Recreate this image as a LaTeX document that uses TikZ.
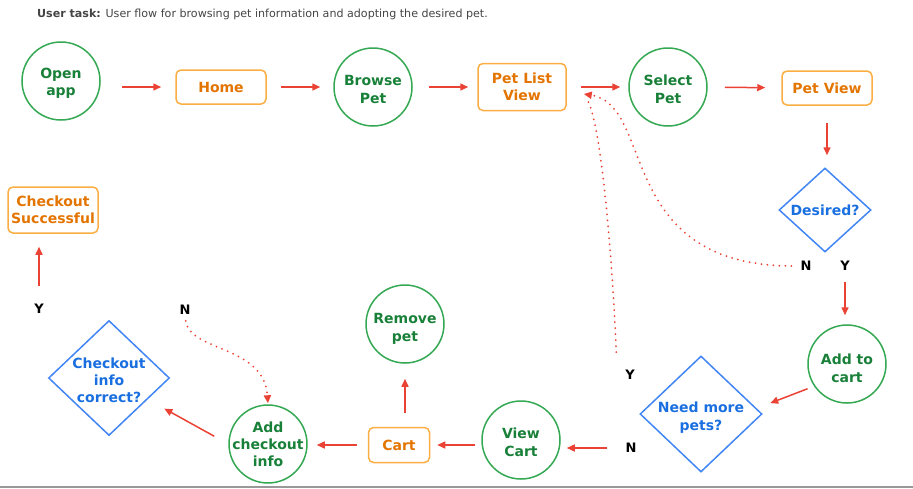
\documentclass[tikz,border=0pt]{standalone}
\usepackage{fontspec}
\setmainfont{DejaVu Sans}
\usetikzlibrary{shapes.geometric,arrows.meta}

\definecolor{flowGreen}{HTML}{34A853}
\definecolor{flowGreenText}{HTML}{188038}
\definecolor{flowOrange}{HTML}{FBAE44}
\definecolor{flowOrangeText}{HTML}{E37400}
\definecolor{flowBlue}{HTML}{4285F4}
\definecolor{flowBlueText}{HTML}{1A6FE0}
\definecolor{flowRed}{HTML}{EA4335}
\definecolor{taskGray}{HTML}{444444}

\newcommand\lowerby[1]{\rule{0pt}{#1}}

\tikzset{
  screen/.style={draw=flowOrange, line width=1.5pt, rounded corners=5pt, text=flowOrangeText,
    font=\bfseries\fontsize{14}{17.2}\selectfont, align=center, inner sep=2pt},
  action/.style={circle, draw=flowGreen, line width=1.5pt, text=flowGreenText,
    font=\bfseries\fontsize{14}{17.2}\selectfont, align=center, minimum size=78pt, inner sep=0pt},
  decision/.style={diamond, draw=flowBlue, line width=1.5pt, text=flowBlueText,
    font=\bfseries\fontsize{14}{17.2}\selectfont, align=center, inner sep=-4pt},
  answer/.style={font=\bfseries\fontsize{13}{15}\selectfont, inner sep=1pt},
  flow/.style={draw=flowRed, line width=1.5pt, -{Triangle[length=8pt,width=7pt]}},
  back/.style={draw=flowRed, line width=2pt, line cap=round, dash pattern=on 0pt off 6pt,
    -{Triangle[length=8pt,width=7pt]}}
}

\begin{document}
\begin{tikzpicture}[x=1pt,y=-1pt]
\useasboundingbox (0,0) rectangle (913,488);
\draw[gray!80, line width=2pt] (0,486.5) -- (913,486.5);
\node[anchor=west, inner sep=0pt, text=taskGray, font=\fontsize{11.1}{13}\selectfont] (task) at (37,14)
  {\textbf{User task:} User flow for browsing pet information and adopting the desired pet.};

\node[action] (openApp) at (61,81) {\lowerby{15pt}Open\\app};
\node[screen, minimum width=90pt, minimum height=34pt] (home) at (221,87) {Home};
\node[action] (browsePet) at (373,87) {\lowerby{15pt}Browse\\Pet};
\node[screen, minimum width=88pt, minimum height=47pt] (petList) at (522,87) {Pet List\\View};
\node[action] (selectPet) at (668,87) {\lowerby{15pt}Select\\Pet};
\node[screen, minimum width=90pt, minimum height=34pt] (petView) at (827,88) {Pet View};
\node[decision, minimum width=92pt, minimum height=84pt] (desired) at (825,210) {Desired?};
\node[answer] (desiredNo) at (806,266) {N};
\node[answer] (desiredYes) at (845,266) {Y};
\node[action] (addToCart) at (847,364) {\lowerby{19pt}Add to\\cart};
\node[decision, minimum width=122pt, minimum height=116pt] (needMore) at (701,414) {\lowerby{18pt}Need more\\pets?};
\node[answer] (moreYes) at (630,375) {Y};
\node[answer] (moreNo) at (631,448) {N};
\node[action] (viewCart) at (521,440) {\lowerby{15pt}View\\Cart};
\node[screen, minimum width=61pt, minimum height=35pt] (cart) at (399,445) {Cart};
\node[action] (removePet) at (405,324) {\lowerby{20pt}Remove\\pet};
\node[action, inner sep=-7pt] (addCheckout) at (268,444) {Add\\checkout\\info};
\node[decision, minimum width=121pt, minimum height=115pt] (checkoutInfo) at (109,378) {\lowerby{15pt}Checkout\\info\\correct?};
\node[answer] (infoYes) at (39,309) {Y};
\node[answer] (infoNo) at (185,310) {N};
\node[screen, minimum width=90pt, minimum height=46pt] (checkoutDone) at (53,210) {Checkout\\Successful};

\draw[flow, shorten <=21pt, shorten >=14pt] (openApp.east |- home.west) -- (home.west);
\draw[flow, shorten <=14pt, shorten >=13pt] (home) -- (browsePet);
\draw[flow, shorten <=16pt, shorten >=9pt] (browsePet) -- (petList);
\draw[flow, shorten <=14pt, shorten >=8pt] (petList) -- (selectPet);
\draw[flow, shorten <=17pt, shorten >=16pt] (selectPet) -- (petView);
\draw[flow, shorten <=17pt, shorten >=12pt] (petView) -- (petView |- desired.north);
\draw[flow, shorten <=10pt, shorten >=9pt] (desiredYes.south) -- (desiredYes.south |- addToCart.north);
\draw[flow, shorten <=7pt, shorten >=8pt] (addToCart.214) -- ([yshift=8pt]needMore.east);
\draw[flow, shorten <=17pt, shorten >=6pt] (moreNo.west) -- (moreNo.west -| viewCart.east);
\draw[flow, shorten <=6pt, shorten >=7pt] (viewCart.west |- cart.east) -- (cart.east);
\draw[flow, shorten <=11pt, shorten >=9pt] (cart.west) -- (cart.west -| addCheckout.east);
\draw[flow, shorten <=14pt, shorten >=15pt] (removePet.south |- cart.north) -- (removePet.south);
\draw[flow, shorten <=16pt, shorten >=19pt] (addCheckout.west) -- (checkoutInfo);
\draw[flow, shorten <=17pt, shorten >=13pt] (infoYes.north) -- (infoYes.north |- checkoutDone.south);

\draw[back, shorten <=8pt] (desiredNo.west) .. controls (615,265) and (655,105) .. ([xshift=17pt,yshift=-7pt]petList.east);
\draw[back, -, shorten <=17pt] ([xshift=-13pt]moreYes.north) .. controls (612,250) and (600,112) .. ([xshift=19pt,yshift=-11pt]petList.east);
\draw[back, shorten <=5pt, shorten >=1pt] (infoNo.south) .. controls (190,352) and (264,345) .. (addCheckout.north);
\end{tikzpicture}
\end{document}
